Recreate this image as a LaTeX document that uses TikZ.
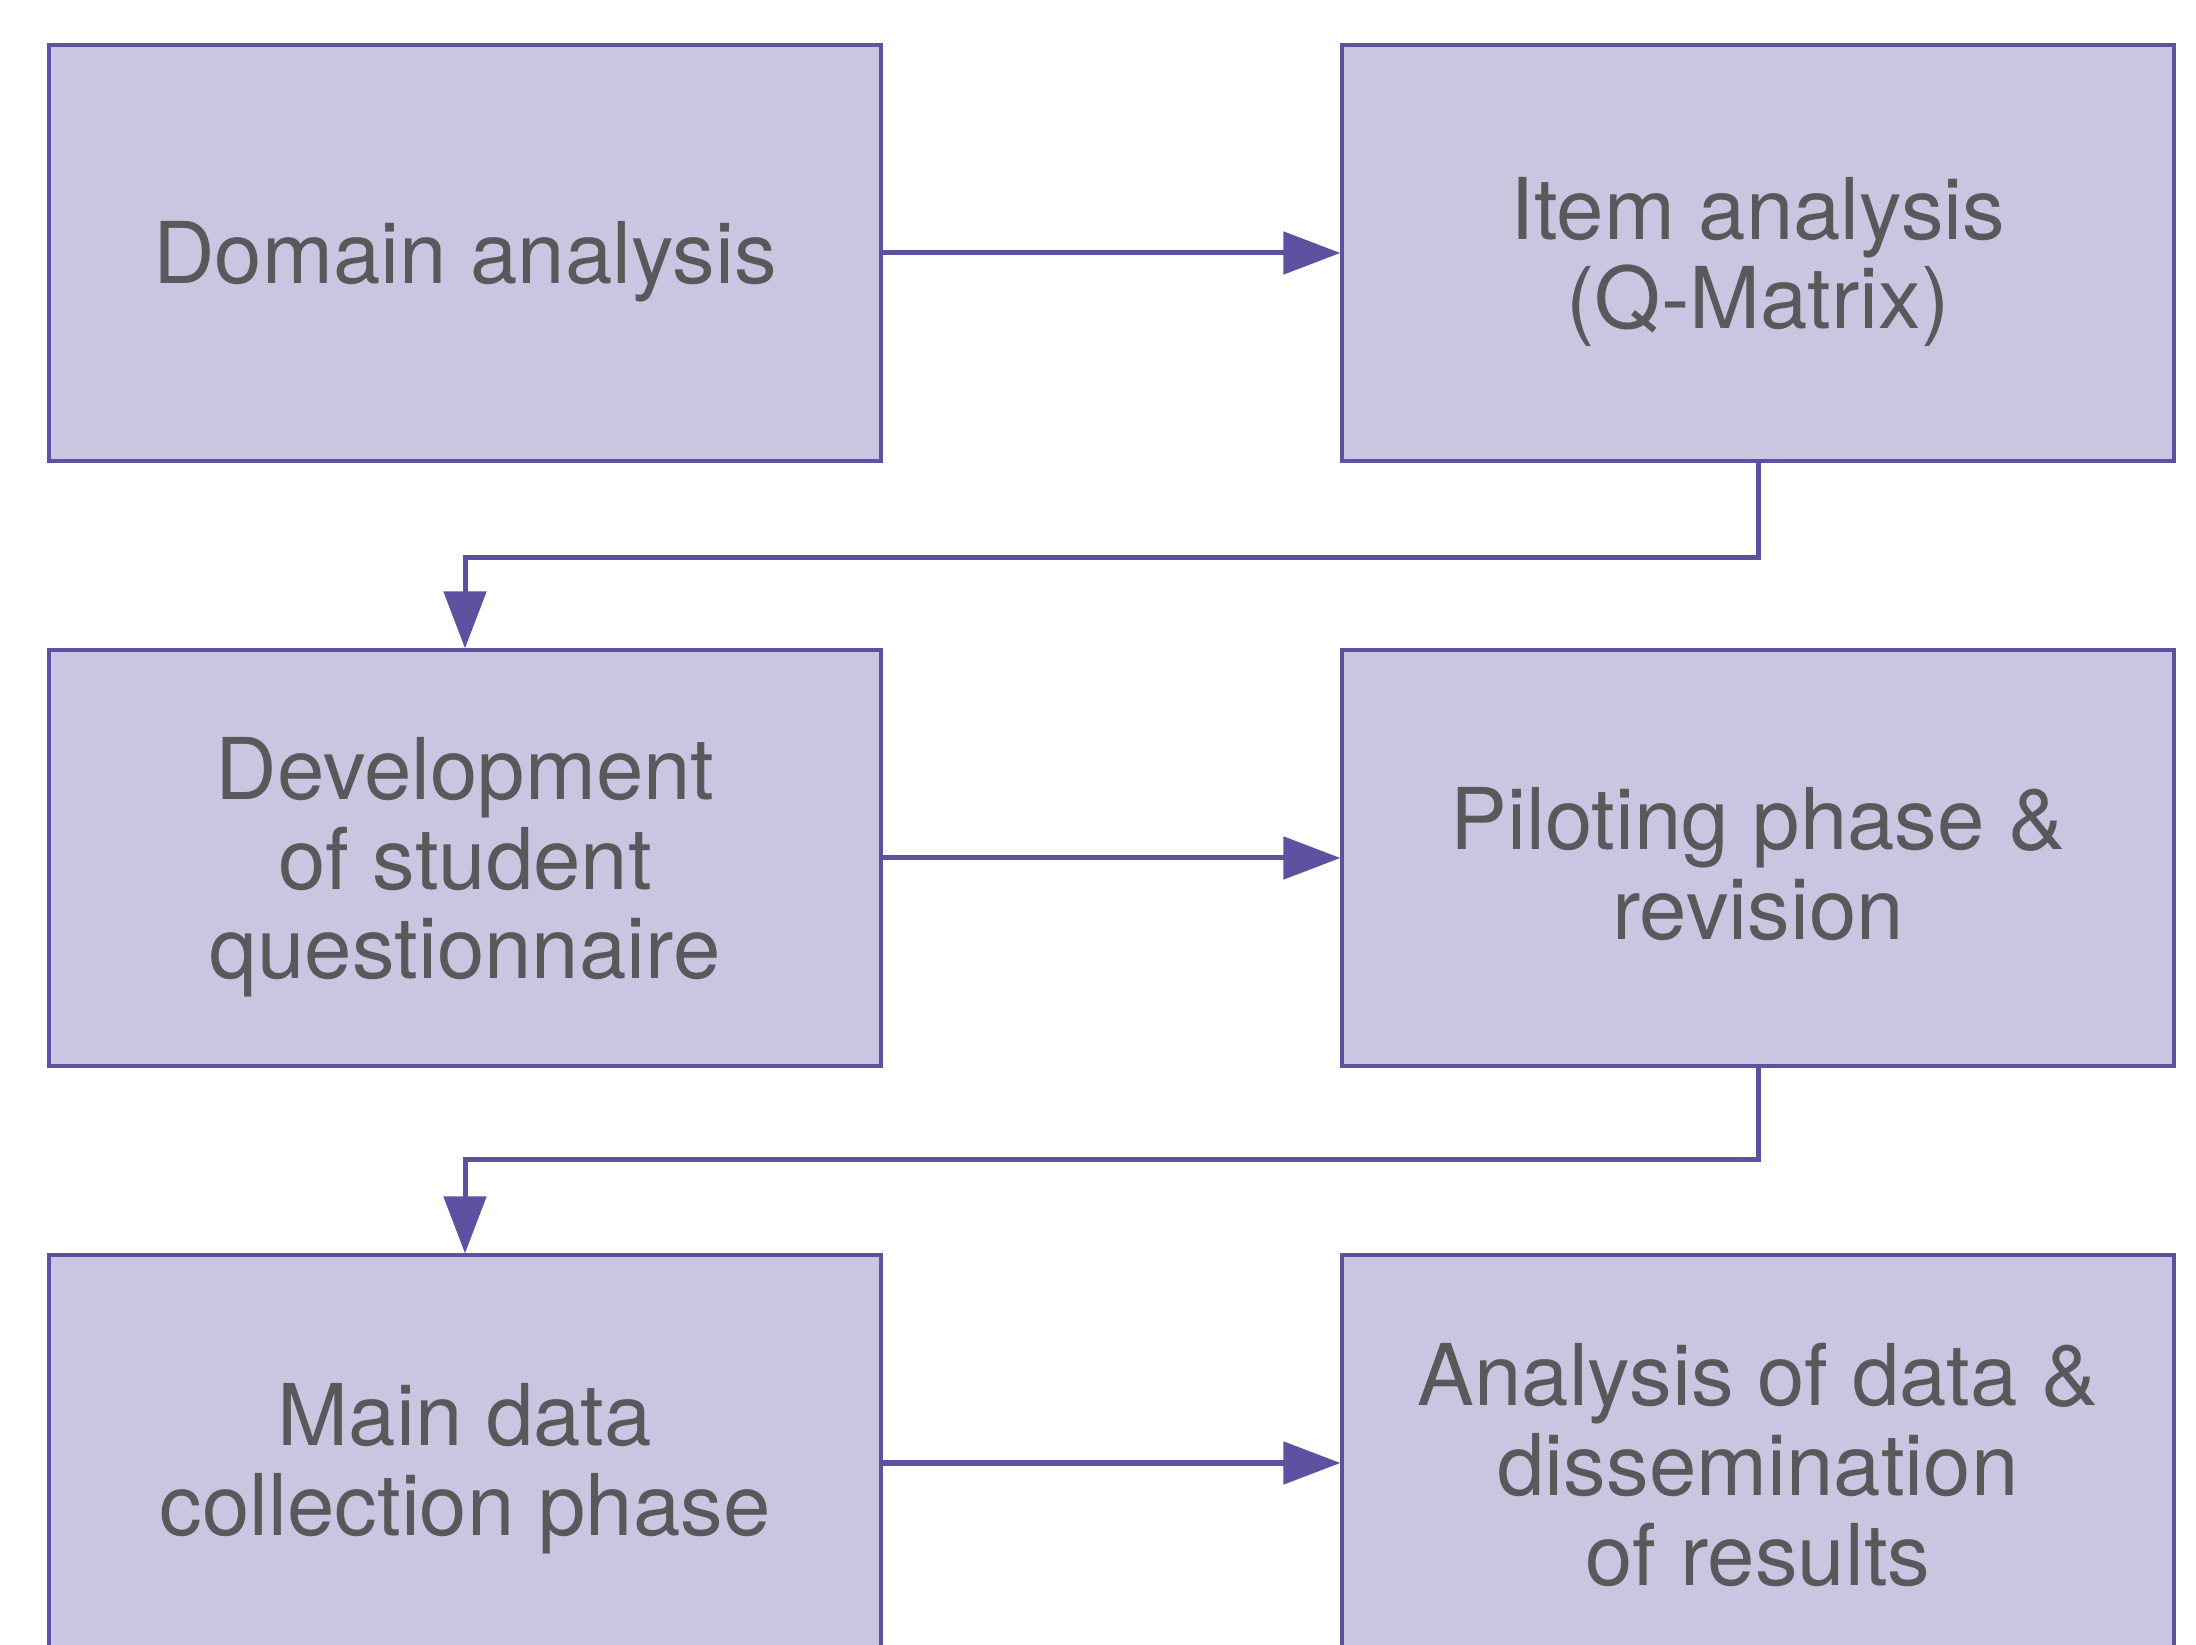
\documentclass[tikz,border=0pt]{standalone}
\usepackage{fontspec}
\setmainfont{TeX Gyre Heros}
\usetikzlibrary{arrows.meta}
\definecolor{boxfill}{HTML}{CBC5E2}
\definecolor{boxline}{HTML}{5F51A1}
\definecolor{txt}{HTML}{58595B}
\tikzset{
  stagebox/.style={draw=boxline, line width=0.8pt, fill=boxfill, rectangle,
    minimum width=208pt, minimum height=104pt, inner sep=0pt},
  stagetext/.style={align=center, text=txt, inner sep=0pt,
    font=\fontsize{21.3}{22.4}\selectfont},
  conn/.style={draw=boxline, line width=1.25pt,
    -{Triangle[length=14.25pt,width=10.5pt]}}
}
\begin{document}
\begin{tikzpicture}[x=0.25pt,y=-0.25pt]
\useasboundingbox (0,0) rectangle (2196,1645);
\clip (0,0) rectangle (2196,1645);
\node[stagebox] (dom) at (465,253) {};
\node[stagebox] (item) at (1758,253) {};
\node[stagebox] (dev) at (465,858) {};
\node[stagebox] (pilot) at (1758,858) {};
\node[stagebox] (main) at (465,1463) {};
\node[stagebox] (ana) at (1758,1463) {};
\node[stagetext] (domt) at ([yshift=-2.2pt]dom.center) {Domain analysis};
\node[stagetext] (itemt) at ([yshift=-2.2pt]item.center) {Item analysis\\(Q-Matrix)};
\node[stagetext] (devt) at ([yshift=-2.4pt]dev.center) {Development\\of student\\questionnaire};
\node[stagetext] (pilott) at ([yshift=-1.5pt]pilot.center) {Piloting phase \&\\revision};
\node[stagetext] (maint) at ([yshift=-1.5pt]main.center) {Main data\\collection phase};
\node[stagetext] (anat) at ([yshift=-0.5pt]ana.center) {Analysis of data \&\\dissemination\\of results};
\draw[conn] (dom.east) -- (item.west);
\draw[conn] (dev.east) -- (pilot.west);
\draw[conn] (main.east) -- (ana.west);
\draw[conn] (item.south) -- ++(0,95) -| (dev.north);
\draw[conn] (pilot.south) -- ++(0,92) -| (main.north);
\end{tikzpicture}
\end{document}
